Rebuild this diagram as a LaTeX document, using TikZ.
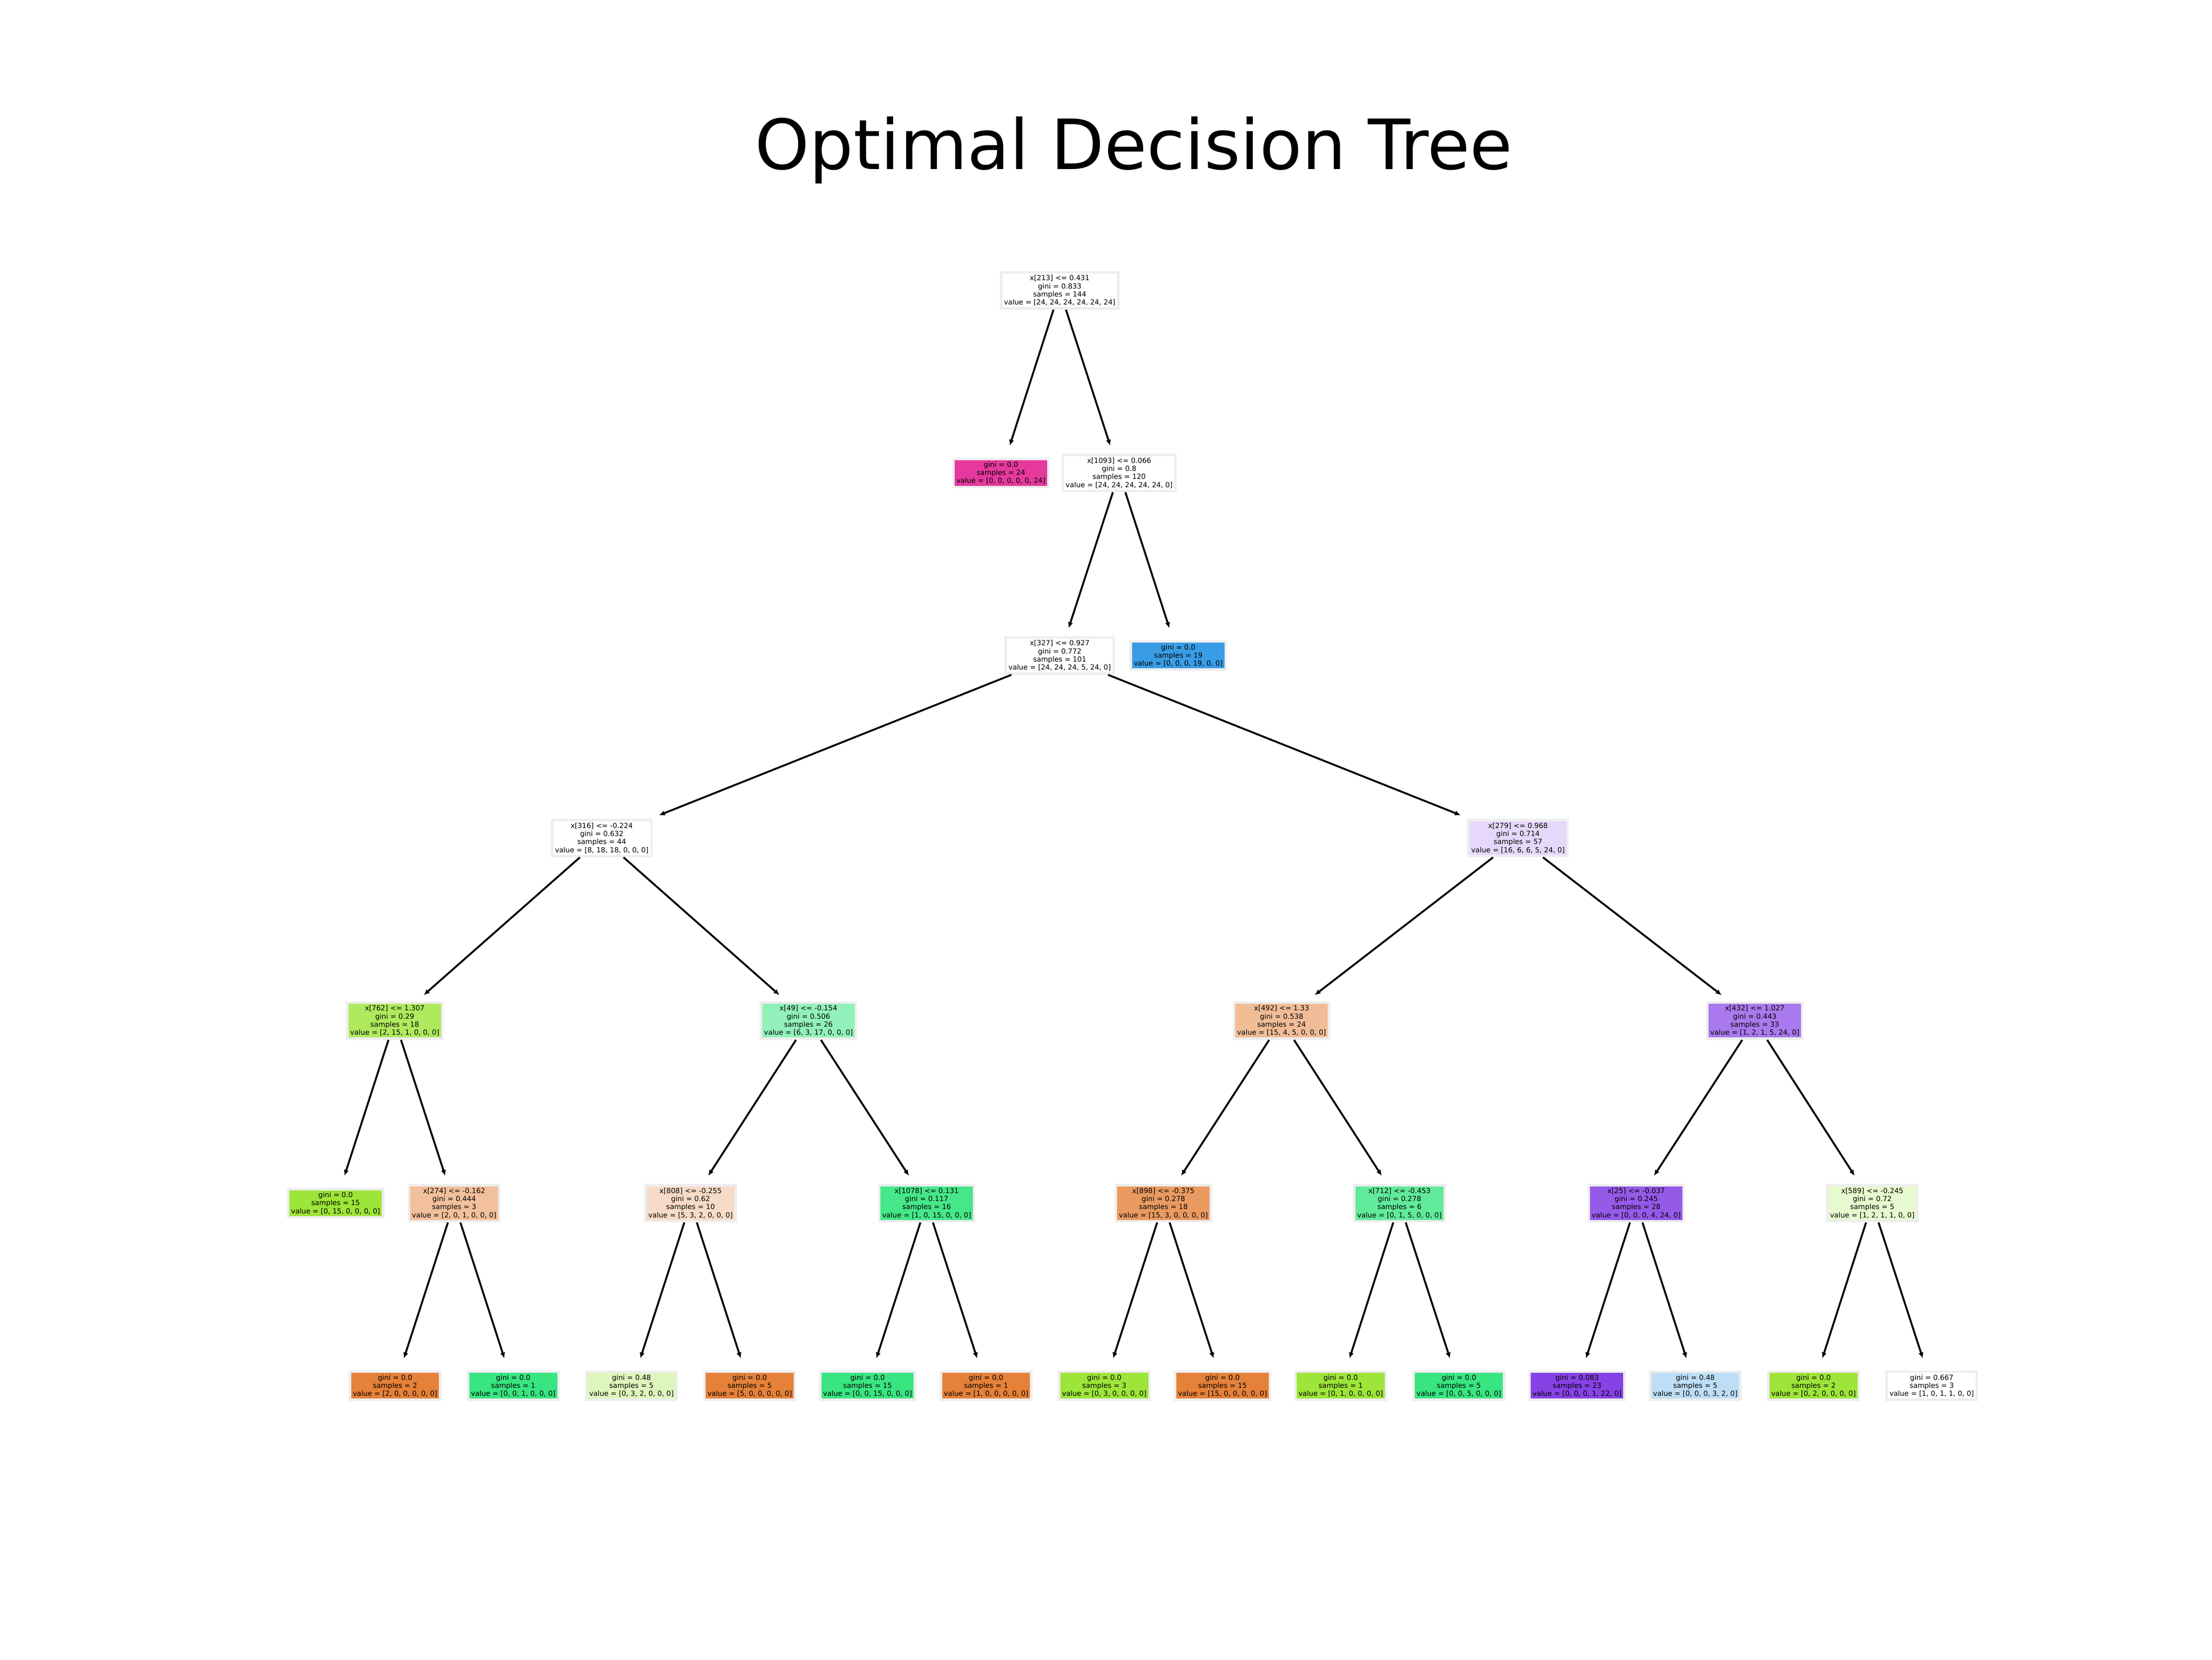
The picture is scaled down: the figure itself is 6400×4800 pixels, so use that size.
\documentclass[tikz,border=0pt]{standalone}
\usepackage{fontspec}
\setmainfont{DejaVu Sans}
\usepackage{tikz}
\usetikzlibrary{arrows.meta}
\usetikzlibrary{calc}

\definecolor{boxgray}{RGB}{238,238,238}
\definecolor{cOrange}{HTML}{E58139}
\definecolor{cLime}{HTML}{9DE539}
\definecolor{cGreen}{HTML}{39E581}
\definecolor{cBlue}{HTML}{399DE5}
\definecolor{cPurple}{HTML}{8139E5}
\definecolor{cPink}{HTML}{E5399D}
\definecolor{cXa}{HTML}{E6D8FA}
\definecolor{cXb}{HTML}{AFEA5E}
\definecolor{cXc}{HTML}{92F1BA}
\definecolor{cXd}{HTML}{F1BD97}
\definecolor{cXe}{HTML}{A979ED}
\definecolor{cXf}{HTML}{F2C09C}
\definecolor{cXg}{HTML}{F8DBC6}
\definecolor{cXh}{HTML}{46E789}
\definecolor{cXi}{HTML}{EA9A61}
\definecolor{cXj}{HTML}{61EA9A}
\definecolor{cXk}{HTML}{965AE9}
\definecolor{cXl}{HTML}{E7F9CE}
\definecolor{cXm}{HTML}{DEF6BD}
\definecolor{cXn}{HTML}{8742E6}
\definecolor{cXo}{HTML}{BDDEF6}

\newcommand{\nodefont}{\fontsize{5.8pt}{6.63pt}\selectfont}

\begin{document}
\begin{tikzpicture}[x=0.01cm,y=-0.01cm,
    tnode/.style={draw=boxgray, line width=0.07cm, fill=#1, align=center,
      inner xsep=0.085cm, inner ysep=0.082cm, font=\nodefont},
    edge/.style={-{Latex[length=0.17cm,width=0.15cm]}, line width=0.055cm}]
    \useasboundingbox (0,0) rectangle (6400,4800);
    \node[anchor=base, font=\fontsize{57pt}{68pt}\selectfont] (title) at (3280,490) {Optimal Decision Tree};
    % level 1 and 2
    \node[tnode=white] (x213) at (3066,840) {x[213] <= 0.431\\gini = 0.833\\samples = 144\\value = [24, 24, 24, 24, 24, 24]};
    \node[tnode=cPink] (pink) at (2896,1368) {gini = 0.0\\samples = 24\\value = [0, 0, 0, 0, 0, 24]};
    \node[tnode=white] (x1093) at (3238,1368) {x[1093] <= 0.066\\gini = 0.8\\samples = 120\\value = [24, 24, 24, 24, 24, 0]};
    % level 3
    \node[tnode=white] (x327) at (3066,1896) {x[327] <= 0.927\\gini = 0.772\\samples = 101\\value = [24, 24, 24, 5, 24, 0]};
    \node[tnode=cBlue] (blue) at (3409,1896) {gini = 0.0\\samples = 19\\value = [0, 0, 0, 19, 0, 0]};
    % level 4
    \node[tnode=white] (x316) at (1741,2424) {x[316] <= -0.224\\gini = 0.632\\samples = 44\\value = [8, 18, 18, 0, 0, 0]};
    \node[tnode=cXa] (x279) at (4392,2424) {x[279] <= 0.968\\gini = 0.714\\samples = 57\\value = [16, 6, 6, 5, 24, 0]};
    % level 5
    \node[tnode=cXb] (x762) at (1142,2952) {x[762] <= 1.307\\gini = 0.29\\samples = 18\\value = [2, 15, 1, 0, 0, 0]};
    \node[tnode=cXc] (x49) at (2339,2952) {x[49] <= -0.154\\gini = 0.506\\samples = 26\\value = [6, 3, 17, 0, 0, 0]};
    \node[tnode=cXd] (x492) at (3708,2952) {x[492] <= 1.33\\gini = 0.538\\samples = 24\\value = [15, 4, 5, 0, 0, 0]};
    \node[tnode=cXe] (x432) at (5077,2952) {x[432] <= 1.027\\gini = 0.443\\samples = 33\\value = [1, 2, 1, 5, 24, 0]};
    % level 6
    \node[tnode=cLime] (lime) at (971,3480) {gini = 0.0\\samples = 15\\value = [0, 15, 0, 0, 0, 0]};
    \node[tnode=cXf] (x274) at (1314,3480) {x[274] <= -0.162\\gini = 0.444\\samples = 3\\value = [2, 0, 1, 0, 0, 0]};
    \node[tnode=cXg] (x808) at (1998,3480) {x[808] <= -0.255\\gini = 0.62\\samples = 10\\value = [5, 3, 2, 0, 0, 0]};
    \node[tnode=cXh] (x1078) at (2681,3480) {x[1078] <= 0.131\\gini = 0.117\\samples = 16\\value = [1, 0, 15, 0, 0, 0]};
    \node[tnode=cXi] (x898) at (3366,3480) {x[898] <= -0.375\\gini = 0.278\\samples = 18\\value = [15, 3, 0, 0, 0, 0]};
    \node[tnode=cXj] (x712) at (4049,3480) {x[712] <= -0.453\\gini = 0.278\\samples = 6\\value = [0, 1, 5, 0, 0, 0]};
    \node[tnode=cXk] (x25) at (4734,3480) {x[25] <= -0.037\\gini = 0.245\\samples = 28\\value = [0, 0, 0, 4, 24, 0]};
    \node[tnode=cXl] (x589) at (5417,3480) {x[589] <= -0.245\\gini = 0.72\\samples = 5\\value = [1, 2, 1, 1, 0, 0]};
    % level 7
    \node[tnode=cOrange] (L1) at (1143,4008) {gini = 0.0\\samples = 2\\value = [2, 0, 0, 0, 0, 0]};
    \node[tnode=cGreen] (L2) at (1485,4008) {gini = 0.0\\samples = 1\\value = [0, 0, 1, 0, 0, 0]};
    \node[tnode=cXm] (L3) at (1827,4008) {gini = 0.48\\samples = 5\\value = [0, 3, 2, 0, 0, 0]};
    \node[tnode=cOrange] (L4) at (2169,4008) {gini = 0.0\\samples = 5\\value = [5, 0, 0, 0, 0, 0]};
    \node[tnode=cGreen] (L5) at (2510,4008) {gini = 0.0\\samples = 15\\value = [0, 0, 15, 0, 0, 0]};
    \node[tnode=cOrange] (L6) at (2853,4008) {gini = 0.0\\samples = 1\\value = [1, 0, 0, 0, 0, 0]};
    \node[tnode=cLime] (L7) at (3195,4008) {gini = 0.0\\samples = 3\\value = [0, 3, 0, 0, 0, 0]};
    \node[tnode=cOrange] (L8) at (3537,4008) {gini = 0.0\\samples = 15\\value = [15, 0, 0, 0, 0, 0]};
    \node[tnode=cLime] (L9) at (3879,4008) {gini = 0.0\\samples = 1\\value = [0, 1, 0, 0, 0, 0]};
    \node[tnode=cGreen] (L10) at (4221,4008) {gini = 0.0\\samples = 5\\value = [0, 0, 5, 0, 0, 0]};
    \node[tnode=cXn] (L11) at (4563,4008) {gini = 0.083\\samples = 23\\value = [0, 0, 0, 1, 22, 0]};
    \node[tnode=cXo] (L12) at (4905,4008) {gini = 0.48\\samples = 5\\value = [0, 0, 0, 3, 2, 0]};
    \node[tnode=cLime] (L13) at (5247,4008) {gini = 0.0\\samples = 2\\value = [0, 2, 0, 0, 0, 0]};
    \node[tnode=white] (L14) at (5589,4008) {gini = 0.667\\samples = 3\\value = [1, 0, 1, 1, 0, 0]};
    % edges
    \draw[edge] (x213) -- ($(x213)!0.85!(pink)$);
    \draw[edge] (x213) -- ($(x213)!0.85!(x1093)$);
    \draw[edge] (x1093) -- ($(x1093)!0.85!(x327)$);
    \draw[edge] (x1093) -- ($(x1093)!0.85!(blue)$);
    \draw[edge] (x327) -- ($(x327)!0.875!(x316)$);
    \draw[edge] (x327) -- ($(x327)!0.875!(x279)$);
    \draw[edge] (x316) -- ($(x316)!0.86!(x762)$);
    \draw[edge] (x316) -- ($(x316)!0.86!(x49)$);
    \draw[edge] (x279) -- ($(x279)!0.86!(x492)$);
    \draw[edge] (x279) -- ($(x279)!0.86!(x432)$);
    \draw[edge] (x762) -- ($(x762)!0.85!(lime)$);
    \draw[edge] (x762) -- ($(x762)!0.85!(x274)$);
    \draw[edge] (x49) -- ($(x49)!0.85!(x808)$);
    \draw[edge] (x49) -- ($(x49)!0.85!(x1078)$);
    \draw[edge] (x492) -- ($(x492)!0.85!(x898)$);
    \draw[edge] (x492) -- ($(x492)!0.85!(x712)$);
    \draw[edge] (x432) -- ($(x432)!0.85!(x25)$);
    \draw[edge] (x432) -- ($(x432)!0.85!(x589)$);
    \draw[edge] (x274) -- ($(x274)!0.85!(L1)$);
    \draw[edge] (x274) -- ($(x274)!0.85!(L2)$);
    \draw[edge] (x808) -- ($(x808)!0.85!(L3)$);
    \draw[edge] (x808) -- ($(x808)!0.85!(L4)$);
    \draw[edge] (x1078) -- ($(x1078)!0.85!(L5)$);
    \draw[edge] (x1078) -- ($(x1078)!0.85!(L6)$);
    \draw[edge] (x898) -- ($(x898)!0.85!(L7)$);
    \draw[edge] (x898) -- ($(x898)!0.85!(L8)$);
    \draw[edge] (x712) -- ($(x712)!0.85!(L9)$);
    \draw[edge] (x712) -- ($(x712)!0.85!(L10)$);
    \draw[edge] (x25) -- ($(x25)!0.85!(L11)$);
    \draw[edge] (x25) -- ($(x25)!0.85!(L12)$);
    \draw[edge] (x589) -- ($(x589)!0.85!(L13)$);
    \draw[edge] (x589) -- ($(x589)!0.85!(L14)$);
\end{tikzpicture}
\end{document}
